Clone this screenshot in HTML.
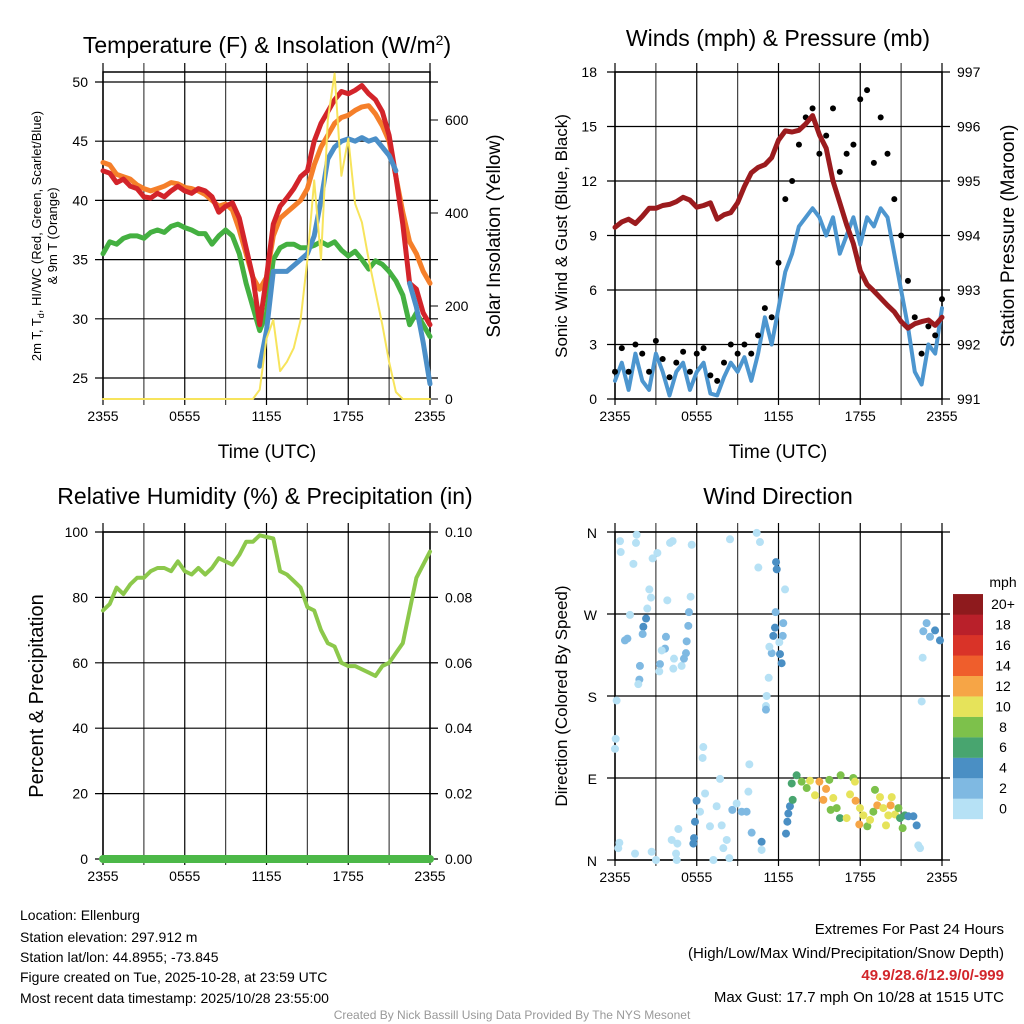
<!DOCTYPE html>
<html><head><meta charset="utf-8">
<style>
html,body{margin:0;padding:0;background:#fff;}
svg{display:block;font-family:"Liberation Sans",sans-serif;}
</style></head>
<body>
<svg id="chart" width="1024" height="1024" viewBox="0 0 1024 1024">
<g id="g1"></g>
<g id="g2"></g>
<g id="g3"></g>
<g id="g4"></g>
<g id="txt">
<text x="20" y="920" font-size="14">Location: Ellenburg</text>
<text x="20" y="942" font-size="14">Station elevation: 297.912 m</text>
<text x="20" y="962" font-size="14">Station lat/lon: 44.8955; -73.845</text>
<text x="20" y="982" font-size="14">Figure created on Tue, 2025-10-28, at 23:59 UTC</text>
<text x="20" y="1003" font-size="14">Most recent data timestamp: 2025/10/28 23:55:00</text>
<text x="1004" y="934" font-size="15" text-anchor="end">Extremes For Past 24 Hours</text>
<text x="1004" y="958" font-size="15" text-anchor="end">(High/Low/Max Wind/Precipitation/Snow Depth)</text>
<text x="1004" y="980" font-size="15" font-weight="bold" fill="#d2262b" text-anchor="end">49.9/28.6/12.9/0/-999</text>
<text x="1004" y="1002" font-size="15" text-anchor="end">Max Gust: 17.7 mph On 10/28 at 1515 UTC</text>
<text x="512" y="1019" font-size="12" fill="#999" text-anchor="middle">Created By Nick Bassill Using Data Provided By The NYS Mesonet</text>
</g>
</svg>
<script>
// ---- data (half-hourly, hour 0 = 2355 UTC) ----
const xTickLabels = ["2355","0555","1155","1755","2355"];
const tempRed = [42.5,42.3,41.5,41.8,41.2,41,40.3,40.2,40.6,40.3,40.8,41.2,40.8,40.6,41,40.8,40.3,39,39.5,39.8,38.5,36,33.5,29.5,33.5,38,39.5,40.2,41,42,42.5,45,46.5,47.5,48.5,49.2,49,49.3,49.7,49,48.5,47.5,45.5,42,38,33,32.5,30.5,29.5];
const tempOrange = [43.2,43,42.2,42,41.8,41.3,41,40.8,41,41.2,41.5,41.4,41.1,41,40.8,40.5,40,39.5,39.7,39.2,37.5,35.5,33.5,32.5,33.5,37,38.5,39,39.5,40,41,43,44.5,45.5,46.5,47,47.2,47.6,47.9,48,47.3,46.3,45,42,39,36.5,35.5,34,33];
const tempGreen = [35.5,36.5,36.3,36.8,37,37,36.8,37.3,37.5,37.3,37.8,38,37.7,37.5,37.2,37.2,36.3,37,37.5,37,35.5,33,31,29,30.5,35,36,36.3,36.3,36,36,36.2,36.5,36.2,36.5,35.8,35.3,35.7,35,34.2,34.9,34.6,34,33.2,32,29.5,30.5,29.5,28.5];
const tempBlue = [null,null,null,null,null,null,null,null,null,null,null,null,null,null,null,null,null,null,null,null,null,null,null,26,29,34,34,34,34.5,35,35.5,37,40,43.5,44.5,45,45.2,45,45.3,45,45.2,44.5,43.8,42.5,null,33,31,28,24.5];
const insolation = [0,0,0,0,0,0,0,0,0,0,0,0,0,0,0,0,0,0,0,0,0,0,0,20,130,170,60,80,110,170,300,470,300,600,700,480,560,420,380,300,230,160,80,15,0,0,0,0,0];
const windSpeed = [1,2,0.5,2.5,1,0.5,2.5,1.5,0.2,1.5,2,0.5,1.5,2,0.3,0.2,1.2,2,1.5,2.3,1,2.5,4.5,3,5,7,8,9.5,10,10.5,10,9,10,8,9,10,8.5,10,9.5,10.5,10,8,6,4,1.5,0.8,3,2.5,5];
const windGust = [1.5,2.8,1.5,3,2.5,1.5,3.2,2.2,1.2,2,2.6,1.5,2.5,2.8,1.3,1,2,3,2.5,3,2.5,3.5,5,4.5,7.5,11,12,14,15.5,16,13.5,14.5,16,12.5,13.5,14,16.5,17,13,15.5,13.5,11,9,6.5,4.5,2.5,4,3.5,5.5];
const pressure = [994.15,994.25,994.3,994.22,994.35,994.5,994.5,994.55,994.57,994.62,994.7,994.65,994.52,994.55,994.6,994.3,994.38,994.42,994.6,994.9,995.15,995.25,995.3,995.43,995.75,995.92,995.9,995.93,996.05,996.2,995.85,995.6,995,994.6,994.2,993.85,993.35,993.1,992.98,992.85,992.72,992.6,992.42,992.3,992.38,992.42,992.45,992.35,992.5];
const rh = [76,78,83,81,84,86,86,88,89,89,88,91,88,87,89,87,89,92,91,90,93,97,97,99,98.5,98,88,87,85,83,77,76,70,66,65,60,59,59,58,57,56,59,60,63,66,76,86,90,94];
const precip = [0,0,0,0,0,0,0,0,0,0,0,0,0,0,0,0,0,0,0,0,0,0,0,0,0,0,0,0,0,0,0,0,0,0,0,0,0,0,0,0,0,0,0,0,0,0,0,0,0];
const dirHour = [0.37,0.42,1.59,1.54,4.04,4.23,5.63,8.44,10.4,10.64,10.52,1.35,2.76,3.11,2.52,2.64,3.84,5.55,12.48,1.1,2.37,0.73,0.91,2.08,2.28,2.03,3.74,3.67,3.43,3.3,3.25,1.83,1.79,1.71,4.33,4.28,4.89,5.06,5.21,5.26,5.38,5.43,0.12,0.05,0,11.82,11.87,11.79,11.74,11.62,12.35,12.31,12.06,12.11,12.23,11.5,11.33,11.28,11.13,11.08,11.08,6.48,6.43,7.71,9.86,9.79,6.61,5.99,7.46,8.61,8.93,9.3,9.66,10.03,10.76,10.76,8.39,7.22,7.95,8.2,5.75,5.8,5.87,6.24,6.97,7.83,4.65,4.58,4.16,4.48,4.53,3.01,2.69,1.47,0.32,0.24,12.55,12.65,12.72,12.84,13.04,12.97,13.33,13.7,14.07,14.31,14.68,15,15.29,15.49,15.73,16.02,15.83,16.27,16.51,16.56,17,17.25,17.49,17.66,17.61,17.93,17.98,18.23,18.52,18.72,18.96,19.08,19.25,19.45,19.69,19.89,20.06,20.23,20.31,20.55,20.8,20.92,21.11,21.28,21.53,21.9,22.14,22.26,22.39,22.87,22.63,23.12,23.49,23.85,22.58,22.51];
const dirDeg = [350,338,357,348,348,350,346,352,359,349,321,325,331,337,297,288,285,289,297,269,276,241,243,256,265,248,245,232,230,215,207,213,198,193,221,210,213,221,227,240,257,272,175,133,122,327,319,272,255,246,260,246,239,226,216,227,234,200,180,169,165,124,112,89,105,75,73,65,59,55,62,53,53,30,20,11,2,0,13,22,18,24,42,53,37,38,34,18,22,7,0,0,9,7,19,13,29,42,51,59,66,84,93,86,79,87,71,86,66,78,88,68,55,57,46,93,46,72,90,65,86,39,57,49,37,44,53,77,60,69,57,38,49,60,69,50,57,46,35,49,48,48,38,16,13,260,251,245,252,241,222,174];
const dirSpeed = [1,1,1,1,1,1,1,1,1,1,1,1,1,1,1,1,1,1,1,1,1,3,3,5,5,3,3,3,1,3,1,3,3,1,1,1,1,3,3,3,3,3,1,1,1,5,5,3,5,5,3,3,1,5,5,3,1,1,1,1,3,1,1,1,1,1,1,5,1,3,1,3,3,3,5,1,1,1,1,1,5,5,5,1,1,1,1,1,1,1,1,1,1,1,1,1,5,5,5,5,7,7,7,9,9,11,11,13,13,13,9,11,9,9,7,9,11,11,9,13,11,13,11,11,9,11,9,9,13,11,11,11,11,13,11,11,9,7,9,7,5,5,5,1,1,3,3,3,5,5,1,1];
const speedLabels = ["0","2","4","6","8","10","12","14","16","18","20+"];
const yTicks1 = [25,30,35,40,45,50];
const yTicks1R = [0,200,400,600];
const yTicks2 = [0,3,6,9,12,15,18];
const yTicks2R = [991,992,993,994,995,996,997];
const yTicks3 = [0,20,40,60,80,100];
const yTicks3R = ["0.00","0.02","0.04","0.06","0.08","0.10"];
const dirTickLabels = ["N","E","S","W","N"];
const dirTickDeg = [0,90,180,270,360];

const NS="http://www.w3.org/2000/svg";
function mk(parent,tag,attrs,text){const e=document.createElementNS(NS,tag);for(const k in attrs)e.setAttribute(k,attrs[k]);if(text!==undefined)e.textContent=text;parent.appendChild(e);return e;}
function lin(d0,d1,r0,r1){return v=>r0+(v-d0)*(r1-r0)/(d1-d0);}
const speedColors=["#b6e1f5","#7fb9e2","#4a8fc4","#48a56f","#7dc14b","#e6e35a","#f6a546","#ef5e2c","#d93328","#b9202a","#8e1a1d"];

function frame(g,x0,x1,yt,yb,hLines,xs){
  for(let h=0;h<=24;h+=3){
    const x=xs(h);
    const l=mk(g,'line',{x1:x,x2:x,y1:yt-9,y2:yb+6,stroke:(h%6===0?'#000':'#444'),'stroke-width':1.2});
    
    
  }
  hLines.forEach(y=>{
    const l=mk(g,'line',{x1:x0-8,x2:x1+8,y1:y,y2:y,stroke:'#000','stroke-width':1.2});
    
    
  });
  const b=mk(g,'rect',{x:x0,y:yt,width:x1-x0,height:yb-yt,fill:'none',stroke:'#000','stroke-width':1.5});
  
  
  xTickLabels.forEach((t,i)=>{
    const tx=mk(g,'text',{x:xs(i*6),y:yb+22,'font-size':14,'text-anchor':'middle'},t);
    
    
  });
}
function linePath(g,vals,xs,ys,color,w,name){
  let d='',pen=false;
  vals.forEach((v,i)=>{
    if(v===null){pen=false;return;}
    d+=(pen?'L':'M')+xs(i/2).toFixed(1)+','+ys(v).toFixed(1);pen=true;
  });
  const p=mk(g,'path',{d:d,fill:'none',stroke:color,'stroke-width':w,'stroke-linejoin':'round','stroke-linecap':'round'});
  
  
}
function title(g,x,y,t,size,name){const e=mk(g,'text',{x:x,y:y,'font-size':size,'text-anchor':'middle'},t);return e;}
function vtitle(g,x,y,t,size,name){const e=mk(g,'text',{x:x,y:y,'font-size':size,'text-anchor':'middle',transform:'rotate(-90 '+x+' '+y+')'},t);return e;}

// ---- Panel 1 ----
(function(){
  const g=document.getElementById('g1');
  const xs=lin(0,24,103,430), ys=lin(25,50,378,82), yr=lin(0,600,399,120);
  frame(g,103,430,72,399,yTicks1.map(ys),xs);
  yTicks1.forEach(v=>{const t=mk(g,'text',{x:88,y:ys(v)+5,'font-size':14,'text-anchor':'end'},String(v));});
  yTicks1R.forEach(v=>{mk(g,'line',{x1:430,x2:438,y1:yr(v),y2:yr(v),stroke:'#000'});const t=mk(g,'text',{x:445,y:yr(v)+5,'font-size':14},String(v));});
  linePath(g,tempGreen,xs,ys,'#44b041',5,'dewpoint-line');
  linePath(g,tempOrange,xs,ys,'#f57f2a',5,'temp-9m-line');
  linePath(g,tempRed,xs,ys,'#d3242a',5,'temp-2m-line');
  linePath(g,tempBlue,xs,ys,'#4b8fc8',5,'windchill-line');
  linePath(g,insolation,xs,yr,'#f7e45c',2,'insolation-line');
  title(g,267,53,'',23,'temperature-title').innerHTML='Temperature (F) &amp; Insolation (W/m<tspan dy="-8" font-size="14">2</tspan><tspan dy="8">)</tspan>';
  title(g,267,458,'Time (UTC)',19,'x-axis-title');
  vtitle(g,41,236,'',13,'y-axis-title').innerHTML='2m T, T<tspan dy="3" font-size="9">d</tspan><tspan dy="-3">, HI/WC (Red, Green, Scarlet/Blue)</tspan>';
  vtitle(g,57,236,'& 9m T (Orange)',13,'y-axis-title-2');
  vtitle(g,500,236,'Solar Insolation (Yellow)',19,'y2-axis-title');
})();

// ---- Panel 2 ----
(function(){
  const g=document.getElementById('g2');
  const xs=lin(0,24,615,942), ys=lin(0,18,399,72), yr=lin(991,997,399,72);
  frame(g,615,942,72,399,yTicks2.map(ys),xs);
  yTicks2.forEach(v=>{const t=mk(g,'text',{x:597,y:ys(v)+5,'font-size':14,'text-anchor':'end'},String(v));});
  yTicks2R.forEach(v=>{mk(g,'line',{x1:942,x2:950,y1:yr(v),y2:yr(v),stroke:'#000'});const t=mk(g,'text',{x:957,y:yr(v)+5,'font-size':14},String(v));});
  linePath(g,windSpeed,xs,ys,'#4d96cf',4,'wind-speed-line');
  windGust.forEach((v,i)=>{const c=mk(g,'circle',{cx:xs(i/2),cy:ys(v),r:3,fill:'#000'});});
  linePath(g,pressure,xs,yr,'#9b1b1e',5,'pressure-line');
  title(g,778,46,'Winds (mph) & Pressure (mb)',23,'wind-title');
  title(g,778,458,'Time (UTC)',19,'x-axis-title');
  vtitle(g,567,236,'Sonic Wind & Gust (Blue, Black)',17,'y-axis-title');
  vtitle(g,1014,236,'Station Pressure (Maroon)',19,'y2-axis-title');
})();

// ---- Panel 3 ----
(function(){
  const g=document.getElementById('g3');
  const xs=lin(0,24,103,430), ys=lin(0,100,859,532), yr=lin(0,0.1,859,532);
  frame(g,103,430,532,859,yTicks3.map(ys),xs);
  yTicks3.forEach(v=>{const t=mk(g,'text',{x:88,y:ys(v)+5,'font-size':14,'text-anchor':'end'},String(v));});
  yTicks3R.forEach((v,i)=>{const y=yr(i*0.02);mk(g,'line',{x1:430,x2:438,y1:y,y2:y,stroke:'#000'});const t=mk(g,'text',{x:445,y:y+5,'font-size':14},v);});
  linePath(g,rh,xs,ys,'#8cc84b',4,'humidity-line');
  linePath(g,precip,xs,yr,'#4cb848',8,'precip-line');
  title(g,265,504,'Relative Humidity (%) & Precipitation (in)',23,'humidity-title');
  vtitle(g,43,696,'Percent & Precipitation',20,'y-axis-title');
})();

// ---- Panel 4 ----
(function(){
  const g=document.getElementById('g4');
  const xs=lin(0,24,615,942), ys=lin(0,360,860,532);
  frame(g,615,942,532,860,dirTickDeg.map(ys),xs);
  dirTickDeg.forEach((d,i)=>{const t=mk(g,'text',{x:597,y:ys(d)+6,'font-size':14,'text-anchor':'end'},dirTickLabels[i]);});
  dirHour.forEach((h,i)=>{
    const bin=Math.min(10,Math.floor(dirSpeed[i]/2));
    const c=mk(g,'circle',{cx:xs(h),cy:ys(dirDeg[i]),r:4,fill:speedColors[bin]});
    
    
  });
  const t0=mk(g,'text',{x:1003,y:587,'font-size':14,'text-anchor':'middle'},'mph');
  
  
  speedLabels.forEach((lab,i)=>{
    const y=819-(i+1)*20.45;
    const r=mk(g,'rect',{x:953,y:y,width:30,height:20.6,fill:speedColors[i]});
    
    
    const t=mk(g,'text',{x:1003,y:y+15,'font-size':14,'text-anchor':'middle'},lab);
    
    
  });
  title(g,778,504,'Wind Direction',23,'direction-title');
  vtitle(g,567,696,'Direction (Colored By Speed)',17,'y-axis-title');
})();
</script>
</body></html>
